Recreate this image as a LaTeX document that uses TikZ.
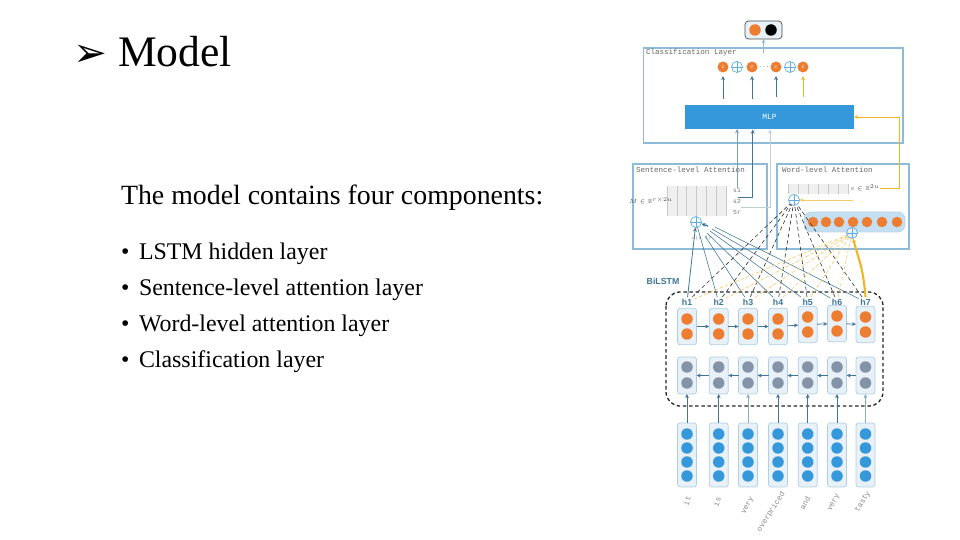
\documentclass[tikz,border=0pt]{standalone}
\usepackage{amssymb}
\usepackage{fontspec}
\setmainfont{Liberation Serif}
\setsansfont{Liberation Sans}
\setmonofont{Liberation Mono}
\newfontfamily\dejafont{DejaVu Sans}
\usetikzlibrary{arrows.meta,positioning}
\definecolor{mdorange}{HTML}{ED7D31}
\definecolor{mdblue}{HTML}{3498DB}
\definecolor{mdgray}{HTML}{8593A8}
\definecolor{mdframe}{HTML}{8DBBD8}
\definecolor{mdwire}{HTML}{3F7596}
\definecolor{mdyellow}{HTML}{F0B429}
\definecolor{mdpale}{HTML}{E8F0F8}
\definecolor{mdgrid}{HTML}{EFEFEF}
\begin{document}
\begin{tikzpicture}[
    x=0.02cm, y=-0.02cm,
    >={Stealth[length=2.4pt,width=2.2pt]},
    every node/.style={inner sep=0pt, outer sep=0pt},
    slidetext/.style={anchor=base west, font=\fontsize{13.6pt}{16pt}\selectfont},
    paneltitle/.style={anchor=west, text=black!60, font=\ttfamily\fontsize{4.3pt}{5pt}\selectfont},
    tinylabel/.style={text=black!55, font=\ttfamily\fontsize{3.6pt}{4pt}\selectfont},
    mathlabel/.style={text=black!70, font=\tiny, scale=0.68},
    wordlabel/.style={text=black!45, font=\ttfamily\fontsize{4.4pt}{5pt}\selectfont},
    hlabel/.style={text=mdwire, inner sep=1pt, font=\sffamily\bfseries\fontsize{5pt}{6pt}\selectfont},
    panel/.style={draw=mdframe, line width=0.6pt, minimum width=#1},
    colbox/.style={draw=mdframe!70, fill=mdpale, rounded corners=1.5pt, line width=0.4pt, minimum width=0.38cm},
    dotorange/.style={circle, fill=mdorange, minimum size=0.23cm},
    dotgray/.style={circle, fill=mdgray, minimum size=0.23cm},
    dotblue/.style={circle, fill=mdblue, minimum size=0.23cm},
    zdot/.style={dotorange, minimum size=0.22cm, text=white!80!mdorange, font=\fontsize{3.5pt}{4pt}\selectfont},
    plusnode/.style={circle, draw=mdblue!80, fill=white, line width=0.4pt, minimum size=0.22cm,
      path picture={\draw[mdblue!80, line width=0.4pt] (path picture bounding box.north) -- (path picture bounding box.south)
        (path picture bounding box.west) -- (path picture bounding box.east);}},
    wire/.style={->, draw=mdwire, line width=0.45pt},
    goldwire/.style={->, draw=mdyellow, line width=0.45pt},
    fanwire/.style={draw=mdwire, line width=0.32pt},
    blackdash/.style={black!80, line width=0.35pt, dash pattern=on 2.2pt off 1.6pt},
    golddash/.style={mdyellow!70, line width=0.35pt, dash pattern=on 2pt off 1.2pt}
  ]
    \useasboundingbox (0,0) rectangle (960,540);

    % slide text
    \node[anchor=base west, font=\dejafont\fontsize{23pt}{26pt}\selectfont] (mark) at (73,67) {➢};
    \node[anchor=base west, font=\fontsize{24.8pt}{28pt}\selectfont] (title) at (118,67) {Model};
    \node[slidetext, font=\fontsize{15.85pt}{18pt}\selectfont] (intro) at (121,205) {The model contains four components:};
    \node[slidetext] (b1) at (121,260) {•};
    \node[slidetext] (b2) at (121,296) {•};
    \node[slidetext] (b3) at (121,332) {•};
    \node[slidetext] (b4) at (121,368) {•};
    \node[slidetext] (t1) at (139,260) {LSTM hidden layer};
    \node[slidetext] (t2) at (139,296) {Sentence-level attention layer};
    \node[slidetext] (t3) at (139,332) {Word-level attention layer};
    \node[slidetext] (t4) at (139,368) {Classification layer};

    % panels
    \node[panel=5.2cm, minimum height=1.9cm] (clsbox) at (773,95.5) {};
    \node[panel=2.68cm, minimum height=1.7cm] (sentbox) at (700,206.5) {};
    \node[panel=2.64cm, minimum height=1.7cm] (wordbox) at (843,206.5) {};
    \node[paneltitle] (clstitle) at (646,53) {Classification Layer};
    \node[paneltitle] (senttitle) at (636,170) {Sentence-level Attention};
    \node[paneltitle] (wordtitle) at (782,170) {Word-level Attention};

    % output
    \node[draw=black!70, fill=mdpale, rounded corners=2pt, line width=0.4pt, minimum width=0.74cm, minimum height=0.36cm] (outbox) at (763.5,30) {};
    \node[dotorange] (outa) at (755,30) {};
    \node[dotorange, fill=black] (outb) at (771,30) {};
    \coordinate (clsout) at (763.5,53);
    \draw[wire, draw=mdframe] (clsout) -- (outbox);

    % classification row
    \node[zdot] (za) at (723,67) {z};
    \node[plusnode] (pa) at (737,67) {};
    \node[zdot] (zb) at (752,67) {z};
    \node[tinylabel] (zdots) at (764,67) {...};
    \node[zdot] (zc) at (776,67) {z};
    \node[plusnode] (pb) at (790,67) {};
    \node[zdot] (zd) at (803,67) {z};

    \node[fill=mdblue, minimum width=3.38cm, minimum height=0.48cm, text=white, font=\ttfamily\fontsize{4.5pt}{5pt}\selectfont] (mlp) at (769.5,117) {MLP};
    \draw[wire, shorten <=3.4pt, shorten >=2pt] (mlp.north -| za) -- (za);
    \draw[wire, shorten <=3.4pt, shorten >=2pt] (mlp.north -| zb) -- (zb);
    \draw[wire, shorten <=4.5pt, shorten >=2pt] (mlp.north -| zc) -- (zc);
    \draw[goldwire, shorten <=4.5pt, shorten >=2pt] (mlp.north -| zd) -- (zd);

    % sentence-level attention
    \fill[mdgrid] (667,186) rectangle (726,216);
    \draw[black!22, line width=0.3pt, shift={(667,186)}, xstep=9.83, ystep=10] (0,0) grid (59,30);
    \node[mathlabel] (mlabel) at (651,201) {$M\in\mathbb{R}^{r\times 2u}$};
    \node[tinylabel] (s1) at (737,190) {s1};
    \node[tinylabel] (s2) at (737,201) {s2};
    \node[tinylabel] (sr) at (737,212) {Sr};
    \coordinate (s2tap) at (738,197);
    \coordinate (srtap) at (741,207);
    \coordinate (mlpin2) at (752.7,129.5);
    \coordinate (mlpin3) at (770,129.5);
    \draw[wire, draw=mdwire!70] (s1) -- (s1 |- mlp.south);
    \draw[wire] (s2tap) -| (mlpin2);
    \draw[wire, draw=mdwire!35] (srtap) -| (mlpin3);
    \node[plusnode] (splus) at (696,222) {};
    \node[mathlabel, text=black!55, scale=0.8] (alabel) at (701,238) {$\alpha(1,1)$};
    \coordinate (sjoin) at (708,226);

    % word-level attention
    \fill[mdgrid] (788,184) rectangle (848,194);
    \draw[black!22, line width=0.3pt, shift={(788,184)}, xstep=10, ystep=10] (0,0) grid (60,10);
    \node[mathlabel] (vlabel) at (865,188) {$v\in\mathbb{R}^{2u}$};
    \node[plusnode] (wplus) at (794,200) {};
    \coordinate (wtail) at (853,200);
    \draw[goldwire, draw=mdyellow!70] (wtail) -- (wplus);
    \node[draw=mdframe!60, fill=mdpale!80!mdblue, rounded corners=4pt, line width=0.4pt, minimum width=2.02cm, minimum height=0.4cm] (wordbar) at (854.5,222) {};
    \foreach \n/\cx in {1/813,2/826,3/839,4/853,5/867,6/882,7/897} {
      \node[dotorange, minimum size=0.21cm] (wd\n) at (\cx,222) {};
    }
    \node[plusnode, fill=mdpale] (wsum) at (852,233) {};
    \coordinate (vbend) at (899,117);
    \draw[goldwire] (vlabel.east) -| (vbend) -- (mlp.east |- vbend);

    % bilstm
    \node[text=mdwire, font=\sffamily\bfseries\fontsize{5pt}{6pt}\selectfont] (bilstm) at (663,281) {BiLSTM};
    \draw[black!85, line width=0.75pt, rounded corners=8pt, dash pattern=on 2pt off 1.5pt] (666,292) rectangle (883,406);

    \foreach \n/\cx/\oy/\wc in {1/687/319/100,2/718.7/319/100,3/748/319/60,4/778/319/100,5/807.7/317/100,6/837/316/100,7/865.5/317/60} {
      \node[hlabel] (h\n) at (\cx,302) {h\n};
      \node[colbox, minimum height=0.73cm] (up\n) at (\cx,\oy+7.5) {};
      \node[dotorange] at (\cx,\oy) {};
      \node[dotorange] at (\cx,\oy+15) {};
      \node[colbox, minimum height=0.74cm] (dn\n) at (\cx,375.5) {};
      \node[dotgray] at (\cx,367) {};
      \node[dotgray] at (\cx,383) {};
      \node[colbox, minimum height=1.28cm] (em\n) at (\cx,455) {};
      \node[dotblue] at (\cx,434) {};
      \node[dotblue] at (\cx,448) {};
      \node[dotblue] at (\cx,462) {};
      \node[dotblue] at (\cx,476) {};
      \draw[wire, draw=mdwire!\wc] (em\n) -- (dn\n);
    }
    \foreach \a/\b in {1/2,2/3,3/4,4/5,5/6,6/7} {
      \draw[wire] (up\a) -- (up\b);
      \draw[wire] (dn\b) -- (dn\a);
    }

    % words
    \node[wordlabel, rotate=70] (w1) at (687,501) {it};
    \node[wordlabel, rotate=70] (w2) at (717,502) {is};
    \node[wordlabel, rotate=62] (w3) at (748,506) {very};
    \node[wordlabel, rotate=58] (w4) at (771,512) {overpriced};
    \node[wordlabel, rotate=62] (w5) at (805,503) {and};
    \node[wordlabel, rotate=62] (w6) at (834,503) {very};
    \node[wordlabel, rotate=58] (w7) at (863,502) {tasty};

    % attention connectors
    \draw[wire] (h1) -- (splus);
    \draw[fanwire] (h2) -- (splus);
    \foreach \n/\jx/\jy in {3/705/236,4/707/233,5/710/231,6/712/229,7/715/227} {
      \coordinate (fan\n) at (\jx,\jy);
      \draw[fanwire] (h\n) -- (fan\n);
    }
    \draw[wire, line width=0.8pt] (sjoin) -- (splus);
    \foreach \n in {1,...,7} {
      \draw[blackdash] (h\n) -- (wplus);
    }
    \foreach \n in {1,...,6} {
      \draw[golddash] (h\n) -- (wsum);
    }
    \draw[goldwire, line width=1.2pt] (h7.north) .. controls (863,265) and (857,255) .. (wsum);
  \end{tikzpicture}
\end{document}
